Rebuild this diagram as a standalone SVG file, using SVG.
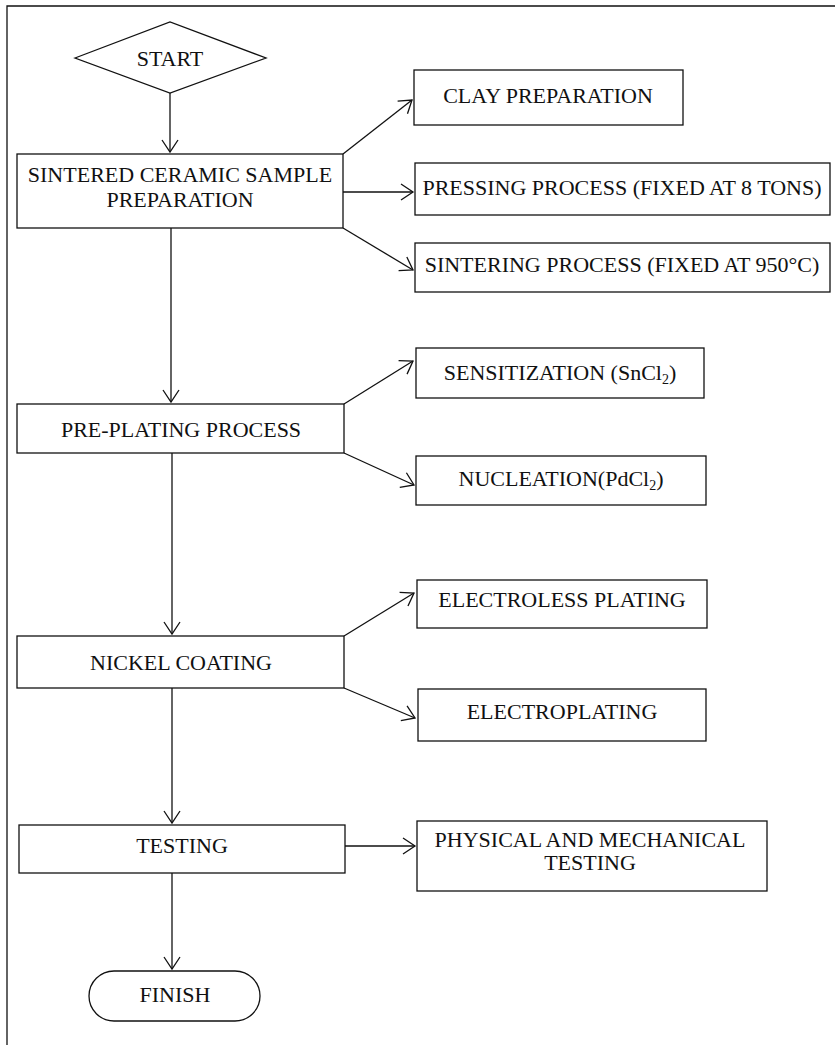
<svg xmlns="http://www.w3.org/2000/svg" width="835" height="1045" viewBox="0 0 835 1045">
<style>
.box{fill:#fff;stroke:#111;stroke-width:1.3}
.t{font-family:"Liberation Serif","Times New Roman",serif;font-size:22px;fill:#111;text-anchor:middle}
.sub{font-size:14px}
.c{fill:none;stroke:#111;stroke-width:1.3}
</style>
<defs>
<marker id="arr" markerUnits="userSpaceOnUse" viewBox="0 0 14 18" markerWidth="14" markerHeight="18" refX="13" refY="9" orient="auto" overflow="visible">
<path d="M1,1 L13,9 L1,17" fill="none" stroke="#111" stroke-width="1.3"/>
</marker>
</defs>
<rect width="835" height="1045" fill="#fff"/>
<path d="M7,1045 L7,6 L835,6" fill="none" stroke="#111" stroke-width="1.3"/>
<g id="connectors">
<line class="c" x1="170" y1="93" x2="170" y2="152" marker-end="url(#arr)"/>
<line class="c" x1="343" y1="154" x2="412" y2="100" marker-end="url(#arr)"/>
<line class="c" x1="343" y1="192" x2="413" y2="192" marker-end="url(#arr)"/>
<line class="c" x1="343" y1="228" x2="413" y2="270" marker-end="url(#arr)"/>
<line class="c" x1="171" y1="228" x2="171" y2="402" marker-end="url(#arr)"/>
<line class="c" x1="344" y1="404" x2="413" y2="361" marker-end="url(#arr)"/>
<line class="c" x1="344" y1="453" x2="414" y2="485" marker-end="url(#arr)"/>
<line class="c" x1="172" y1="453" x2="172" y2="634" marker-end="url(#arr)"/>
<line class="c" x1="344" y1="636" x2="414" y2="593" marker-end="url(#arr)"/>
<line class="c" x1="344" y1="688" x2="415" y2="718" marker-end="url(#arr)"/>
<line class="c" x1="172" y1="688" x2="172" y2="823" marker-end="url(#arr)"/>
<line class="c" x1="345" y1="846" x2="415" y2="846" marker-end="url(#arr)"/>
<line class="c" x1="172" y1="873" x2="172" y2="969" marker-end="url(#arr)"/>
</g>
<g id="start">
<polygon class="box" points="75,58 170,22 266,58 170,93"/>
<text class="t" x="170" y="66">START</text>
</g>
<g id="sintered">
<rect class="box" x="17" y="154" width="326" height="74"/>
<text class="t" x="180" y="182">SINTERED CERAMIC SAMPLE</text>
<text class="t" x="180" y="207">PREPARATION</text>
</g>
<g id="clay">
<rect class="box" x="414" y="70" width="269" height="55"/>
<text class="t" x="548" y="103">CLAY PREPARATION</text>
</g>
<g id="pressing">
<rect class="box" x="415" y="163" width="415" height="52"/>
<text class="t" x="622" y="195">PRESSING PROCESS (FIXED AT 8 TONS)</text>
</g>
<g id="sintering">
<rect class="box" x="415" y="243" width="415" height="49"/>
<text class="t" x="622" y="272">SINTERING PROCESS (FIXED AT 950°C)</text>
</g>
<g id="preplating">
<rect class="box" x="17" y="404" width="327" height="49"/>
<text class="t" x="181" y="437">PRE-PLATING PROCESS</text>
</g>
<g id="sensitization">
<rect class="box" x="416" y="348" width="288" height="50"/>
<text class="t" x="560" y="380">SENSITIZATION (SnCl<tspan class="sub" dy="4">2</tspan><tspan dy="-4">)</tspan></text>
</g>
<g id="nucleation">
<rect class="box" x="416" y="456" width="290" height="49"/>
<text class="t" x="561" y="486">NUCLEATION(PdCl<tspan class="sub" dy="4">2</tspan><tspan dy="-4">)</tspan></text>
</g>
<g id="nickel">
<rect class="box" x="17" y="636" width="327" height="52"/>
<text class="t" x="181" y="670">NICKEL COATING</text>
</g>
<g id="electroless">
<rect class="box" x="417" y="580" width="290" height="48"/>
<text class="t" x="562" y="607">ELECTROLESS PLATING</text>
</g>
<g id="electroplating">
<rect class="box" x="418" y="689" width="288" height="52"/>
<text class="t" x="562" y="719">ELECTROPLATING</text>
</g>
<g id="testing">
<rect class="box" x="19" y="825" width="326" height="48"/>
<text class="t" x="182" y="853">TESTING</text>
</g>
<g id="physical">
<rect class="box" x="417" y="821" width="350" height="70"/>
<text class="t" x="590" y="847">PHYSICAL AND MECHANICAL</text>
<text class="t" x="590" y="870">TESTING</text>
</g>
<g id="finish">
<rect class="box" x="89" y="971" width="171" height="50" rx="25" ry="25"/>
<text class="t" x="175" y="1002">FINISH</text>
</g>
</svg>
